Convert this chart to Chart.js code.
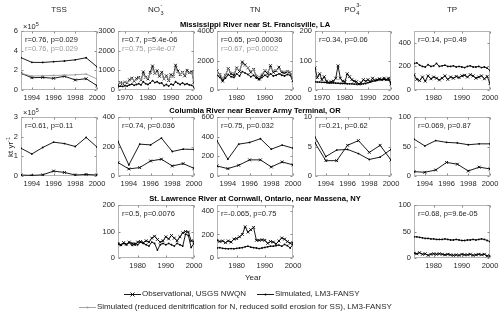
<!DOCTYPE html>
<html><head><meta charset="utf-8">
<script src="https://cdn.jsdelivr.net/npm/chart.js@4.4.0/dist/chart.umd.min.js"></script>
<style>
html,body{margin:0;padding:0;background:#fff;}
#wrap{position:relative;width:500px;height:317px;overflow:hidden;font-family:"Liberation Sans",Arial,sans-serif;color:#262626;}
#wrap canvas{position:absolute;}
.t{position:absolute;white-space:nowrap;font-size:7.5px;line-height:7.5px;}
.g{color:#9a9a9a;}
.ct{position:absolute;white-space:nowrap;font-size:8px;line-height:8px;transform:translateX(-50%);}
.rt{position:absolute;white-space:nowrap;font-size:7.6px;line-height:8px;font-weight:bold;color:#000;transform:translateX(-50%);}
.ss{position:relative;display:inline-block;height:8px;vertical-align:top;}
.ss span{position:absolute;left:0.5px;font-size:5.5px;line-height:5.5px;}
.ss .up{top:-3px;}
.ss .dn{top:5px;}
.lg{position:absolute;white-space:nowrap;font-size:8px;line-height:8px;}
.lg svg{display:block;}
</style></head>
<body><div id="wrap"></div>
<script>
// ---------------- DATA ----------------
const yrs93 = [1993,1994,1995,1996,1997,1998,1999,2000];
const yrs67 = [1967,1968,1969,1970,1971,1972,1973,1974,1975,1976,1977,1978,1979,1980,1981,1982,1983,1984,1985,1986,1987,1988,1989,1990,1991,1992,1993,1994,1995,1996,1997,1998,1999,2000];
const yrs73 = [1973,1974,1975,1976,1977,1978,1979,1980,1981,1982,1983,1984,1985,1986,1987,1988,1989,1990,1991,1992,1993,1994,1995,1996,1997,1998,1999,2000];

// Mississippi (row 1)  TSS in units of 1e5 kt/yr
const missTssSim  = [3.29,2.81,2.80,2.88,2.95,3.07,3.28,2.36];
const missTssRed  = [1.70,1.42,1.45,1.48,1.50,1.55,1.62,1.12];
const missTssObs  = [1.70,1.25,1.28,1.19,1.40,1.02,1.15,0.44];
const missNo3Obs  = [250,380,330,400,360,520,600,450,580,640,500,920,650,560,900,1220,850,980,700,900,560,720,480,780,700,1260,960,780,900,720,1000,880,920,380];
const missNo3Red  = [330,360,340,420,380,480,560,480,520,600,520,780,640,600,820,1050,880,900,760,820,560,680,520,720,680,1100,900,800,880,780,920,860,880,460];
const missNo3Sim  = [160,200,180,220,200,260,300,240,280,320,260,420,320,280,360,480,380,420,340,360,220,280,200,300,260,420,340,280,360,280,320,260,240,150];
const missTnObs   = [1300,1050,600,1000,1450,1100,1000,1500,1250,1900,1700,1500,1200,1400,900,750,1000,1300,1100,1650,1200,1300,1550,1200,1150,1250,1200,650];
const missTnRed   = [1250,1100,800,1050,1400,1200,1150,1450,1350,1750,1650,1500,1300,1350,1000,900,1100,1350,1250,1500,1300,1350,1450,1300,1250,1300,1250,700];
const missTnSim   = [1000,850,650,800,1050,900,850,1100,950,1250,1150,1050,900,1000,800,700,850,1000,900,1100,950,1000,1100,1000,950,1050,1000,600];
const missPo4Obs  = [75,42,55,35,45,30,25,28,30,40,82,40,30,28,55,45,35,30,28,20,25,35,30,35,28,40,32,35,38,35,40,35,40,20];
const missPo4Sim  = [28,27,27,26,26,25,25,24,24,23,23,22,22,22,21,21,21,20,20,20,20,21,22,25,28,30,32,33,35,35,36,35,34,25];
const missTpSim   = [225,230,210,200,195,215,200,205,225,200,205,210,200,200,205,195,200,195,190,200,205,195,195,200,190,195,185,165];
const missTpObs   = [130,90,80,110,75,120,95,110,100,85,100,120,90,110,100,115,105,120,125,110,130,120,100,110,120,95,115,55];

// Columbia (row 2)
const colTssSim = [1.41,1.12,1.45,1.72,1.65,1.50,1.96,1.47];
const colTssObs = [0.05,0.03,0.06,0.25,0.18,0.05,0.08,0.05];
const colNo3Sim = [234,75,216,211,257,166,182,180];
const colNo3Obs = [91,48,57,102,114,68,84,52];
const colTnSim  = [358,171,324,341,379,273,314,283];
const colTnObs  = [102,75,109,164,164,92,143,113];
const colPo4Sim = [6.6,3.3,4.4,4.5,3.8,2.8,3.2,4.5];
const colPo4Obs = [5.6,2.6,2.6,5.2,6.0,4.0,5.2,2.7];
const colTpSim  = [62.5,51,60,57,56,53,54.5,54.5];
const colTpObs  = [7.4,6.3,10.2,23,20,8.5,15,12];

// St. Lawrence (row 3)
const stlNo3Obs = [55,50,58,52,60,55,50,60,62,58,65,60,75,82,70,60,65,80,72,85,75,65,80,95,100,98,65,62];
const stlNo3Sim = [52,48,55,50,58,48,55,50,60,55,50,45,60,55,30,50,55,50,55,50,45,55,50,45,90,85,40,55];
const stlTnObs  = [150,140,145,130,145,135,160,165,180,200,265,220,240,260,150,150,155,150,125,140,135,120,145,170,160,140,125,130];
const stlTnSim  = [85,88,82,80,78,80,78,82,85,88,95,100,92,88,85,80,85,90,95,100,100,105,110,100,115,105,85,115];
const stlTpSim  = [40,40,39,38,37,37,36,36,35,35,35,36,35,34,34,35,34,33,33,34,34,35,34,35,36,35,33,31];
const stlTpObs  = [9,8,10,7,8,5,7,8,7,8,7,6,7,6,5,6,5,7,6,6,7,5,6,7,6,7,4,4];

// tick labels
const ticks93x = [1994,1996,1998,2000];
const ticks70x = [1970,1980,1990,2000];
const ticks80x = [1980,1990,2000];

// text
const colTitles = ['TSS',
  'NO<span class="ss" style="width:4px"><span class="up">-</span><span class="dn">3</span></span>',
  'TN',
  'PO<span class="ss" style="width:6px"><span class="up">3-</span><span class="dn">4</span></span>',
  'TP'];
const rowTitles = ['Mississippi River near St. Francisville, LA','Columbia River near Beaver Army Terminal, OR','St. Lawrence River at Cornwall, Ontario, near Massena, NY'];

// ---------------- LAYOUT ----------------
const wrap = document.getElementById('wrap');
const colL = [21,118,217,315,414], boxW = 76;
const rowT = [31,117,205], rowH = [59,59,53];
const FONT = '"Liberation Sans", Arial, sans-serif';

const boxPlugin = {
  id:'box',
  beforeDatasetsDraw(c){
    const a=c.chartArea, ctx=c.ctx;
    const L=Math.round(a.left)+0.5, T=Math.round(a.top)+0.5, R=Math.round(a.right)-0.5, B=Math.round(a.bottom)-0.5;
    ctx.save();
    ctx.strokeStyle='#b4b4b4'; ctx.lineWidth=1;
    ctx.strokeRect(L,T,R-L,B-T);
    ctx.strokeStyle='#8a8a8a';
    ctx.beginPath();
    c.scales.x.ticks.forEach(t=>{const px=Math.round(c.scales.x.getPixelForValue(t.value))+0.5; ctx.moveTo(px,B); ctx.lineTo(px,B-2); ctx.moveTo(px,T); ctx.lineTo(px,T+2);});
    c.scales.y.ticks.forEach(t=>{const py=Math.round(c.scales.y.getPixelForValue(t.value))+0.5; ctx.moveTo(L,py); ctx.lineTo(L+2,py); ctx.moveTo(R,py); ctx.lineTo(R-2,py);});
    ctx.stroke();
    ctx.restore();
  }
};

function style(kind){
  if(kind==='obs') return {borderColor:'#000',backgroundColor:'#000',pointStyle:'crossRot',pointRadius:2,pointBorderWidth:0.9,borderWidth:0.9};
  if(kind==='sim') return {borderColor:'#000',backgroundColor:'#000',pointStyle:'circle',pointRadius:0.9,pointBorderWidth:0,borderWidth:0.9};
  return {borderColor:'#9a9a9a',backgroundColor:'#9a9a9a',pointStyle:'circle',pointRadius:0.9,pointBorderWidth:0,borderWidth:0.9};
}

function panel(col,row,o){
  const padL=28,padT=8,padR=14,padB=18;
  const w=boxW,h=rowH[row];
  const cv=document.createElement('canvas');
  cv.width=padL+w+padR; cv.height=padT+h+padB;
  cv.style.left=(colL[col]-padL)+'px'; cv.style.top=(rowT[row]-padT)+'px';
  wrap.appendChild(cv);
  const datasets=o.series.map(s=>Object.assign({data:s.x.map((x,i)=>({x:x,y:s.y[i]})),tension:0},style(s.kind)));
  new Chart(cv,{
    type:'line',
    data:{datasets:datasets},
    options:{
      responsive:false,animation:false,devicePixelRatio:1,
      layout:{padding:{left:0,top:padT,right:padR,bottom:0}},
      plugins:{legend:{display:false},tooltip:{enabled:false}},
      scales:{
        x:{type:'linear',min:o.xMin,max:o.xMax,
           afterBuildTicks:s=>{s.ticks=o.xTicks.map(v=>({value:v}));},
           afterFit:s=>{s.height=padB;},
           grid:{display:false,drawTicks:false},border:{display:false},
           ticks:{padding:3,maxRotation:0,autoSkip:false,color:'#262626',font:{family:FONT,size:7.5},callback:v=>String(v)}},
        y:{type:'linear',min:0,max:o.yMax,
           afterBuildTicks:s=>{s.ticks=o.yTicks.map(v=>({value:v}));},
           afterFit:s=>{s.width=padL;},
           grid:{display:false,drawTicks:false},border:{display:false},
           ticks:{padding:3,autoSkip:false,color:'#262626',font:{family:FONT,size:7.5},callback:v=>String(v)}}
      }
    },
    plugins:[boxPlugin]
  });
  // annotations
  o.notes.forEach((n,i)=>{
    const d=document.createElement('div');
    d.className='t'+(n.gray?' g':'');
    d.textContent=n.text;
    d.style.left=(colL[col]+4)+'px';
    d.style.top=(rowT[row]+5+i*9)+'px';
    wrap.appendChild(d);
  });
}

// Row 1
panel(0,0,{xMin:1993,xMax:2000,xTicks:ticks93x,yMax:6,yTicks:[0,2,4,6],
  series:[{x:yrs93,y:missTssRed,kind:'red'},{x:yrs93,y:missTssSim,kind:'sim'},{x:yrs93,y:missTssObs,kind:'obs'}],
  notes:[{text:'r=0.76, p=0.029'},{text:'r=0.76, p=0.029',gray:true}]});
panel(1,0,{xMin:1967,xMax:2000,xTicks:ticks70x,yMax:3000,yTicks:[0,1000,2000,3000],
  series:[{x:yrs67,y:missNo3Red,kind:'red'},{x:yrs67,y:missNo3Sim,kind:'sim'},{x:yrs67,y:missNo3Obs,kind:'obs'}],
  notes:[{text:'r=0.7, p=5.4e-06'},{text:'r=0.75, p=4e-07',gray:true}]});
panel(2,0,{xMin:1973,xMax:2000,xTicks:ticks80x,yMax:4000,yTicks:[0,2000,4000],
  series:[{x:yrs73,y:missTnRed,kind:'red'},{x:yrs73,y:missTnSim,kind:'sim'},{x:yrs73,y:missTnObs,kind:'obs'}],
  notes:[{text:'r=0.65, p=0.00036'},{text:'r=0.67, p=0.0002',gray:true}]});
panel(3,0,{xMin:1967,xMax:2000,xTicks:ticks70x,yMax:200,yTicks:[0,100,200],
  series:[{x:yrs67,y:missPo4Sim,kind:'sim'},{x:yrs67,y:missPo4Obs,kind:'obs'}],
  notes:[{text:'r=0.34, p=0.06'}]});
panel(4,0,{xMin:1973,xMax:2000,xTicks:ticks80x,yMax:500,yTicks:[0,200,400],
  series:[{x:yrs73,y:missTpSim,kind:'sim'},{x:yrs73,y:missTpObs,kind:'obs'}],
  notes:[{text:'r=0.14, p=0.49'}]});
// Row 2
panel(0,1,{xMin:1993,xMax:2000,xTicks:ticks93x,yMax:3,yTicks:[0,1,2,3],
  series:[{x:yrs93,y:colTssSim,kind:'sim'},{x:yrs93,y:colTssObs,kind:'obs'}],notes:[{text:'r=0.61, p=0.11'}]});
panel(1,1,{xMin:1993,xMax:2000,xTicks:ticks93x,yMax:400,yTicks:[0,200,400],
  series:[{x:yrs93,y:colNo3Sim,kind:'sim'},{x:yrs93,y:colNo3Obs,kind:'obs'}],notes:[{text:'r=0.74, p=0.036'}]});
panel(2,1,{xMin:1993,xMax:2000,xTicks:ticks93x,yMax:600,yTicks:[0,200,400,600],
  series:[{x:yrs93,y:colTnSim,kind:'sim'},{x:yrs93,y:colTnObs,kind:'obs'}],notes:[{text:'r=0.75, p=0.032'}]});
panel(3,1,{xMin:1993,xMax:2000,xTicks:ticks93x,yMax:10,yTicks:[0,5,10],
  series:[{x:yrs93,y:colPo4Sim,kind:'sim'},{x:yrs93,y:colPo4Obs,kind:'obs'}],notes:[{text:'r=0.21, p=0.62'}]});
panel(4,1,{xMin:1993,xMax:2000,xTicks:ticks93x,yMax:100,yTicks:[0,50,100],
  series:[{x:yrs93,y:colTpSim,kind:'sim'},{x:yrs93,y:colTpObs,kind:'obs'}],notes:[{text:'r=0.069, p=0.87'}]});
// Row 3
panel(1,2,{xMin:1973,xMax:2000,xTicks:ticks80x,yMax:200,yTicks:[0,100,200],
  series:[{x:yrs73,y:stlNo3Sim,kind:'sim'},{x:yrs73,y:stlNo3Obs,kind:'obs'}],notes:[{text:'r=0.5, p=0.0076'}]});
panel(2,2,{xMin:1973,xMax:2000,xTicks:ticks80x,yMax:450,yTicks:[0,200,400],
  series:[{x:yrs73,y:stlTnSim,kind:'sim'},{x:yrs73,y:stlTnObs,kind:'obs'}],notes:[{text:'r=-0.065, p=0.75'}]});
panel(4,2,{xMin:1973,xMax:2000,xTicks:ticks80x,yMax:100,yTicks:[0,50,100],
  series:[{x:yrs73,y:stlTpSim,kind:'sim'},{x:yrs73,y:stlTpObs,kind:'obs'}],notes:[{text:'r=0.68, p=9.6e-05'}]});

// ---------------- TEXT ----------------
function addDiv(cls,html,left,top){const d=document.createElement('div');d.className=cls;d.innerHTML=html;d.style.left=left+'px';d.style.top=top+'px';wrap.appendChild(d);return d;}
colTitles.forEach((t,i)=>addDiv('ct',t,colL[i]+boxW/2,6));
const rowTitleY=[21,107,195];
rowTitles.forEach((t,i)=>addDiv('rt',t,255,rowTitleY[i]));
addDiv('t','&times;10<sup style="font-size:5.5px;vertical-align:3px">5</sup>',23,21);
addDiv('t','&times;10<sup style="font-size:5.5px;vertical-align:3px">5</sup>',23,107);
const yl=addDiv('t','kt yr<sup style="font-size:5.5px;vertical-align:3px">-1</sup>',10,147);
yl.style.fontSize='8px';yl.style.transform='translate(-50%,-50%) rotate(-90deg)';
const yr=addDiv('t','Year',253,274); yr.style.fontSize='8px'; yr.style.transform='translateX(-50%)';

const sObs='<svg width="17" height="7"><line x1="0" y1="3.5" x2="17" y2="3.5" stroke="#000" stroke-width="0.9"/><path d="M6.5 1.5L10.5 5.5M10.5 1.5L6.5 5.5" stroke="#000" stroke-width="0.9"/></svg>';
const sSim='<svg width="17" height="7"><line x1="0" y1="3.5" x2="17" y2="3.5" stroke="#000" stroke-width="0.9"/><circle cx="8.5" cy="3.5" r="1" fill="#000"/></svg>';
const sRed='<svg width="17" height="7"><line x1="0" y1="3.5" x2="17" y2="3.5" stroke="#9a9a9a" stroke-width="0.9"/><circle cx="8.5" cy="3.5" r="1" fill="#9a9a9a"/></svg>';
addDiv('lg',sObs,124,291);
addDiv('lg','Observational, USGS NWQN',142,290);
addDiv('lg',sSim,257,291);
addDiv('lg','Simulated, LM3-FANSY',275,290);
addDiv('lg',sRed,79,304);
addDiv('lg','Simulated (reduced denitrification for N, reduced soild erosion for SS), LM3-FANSY',97,303);
</script>
</body></html>
